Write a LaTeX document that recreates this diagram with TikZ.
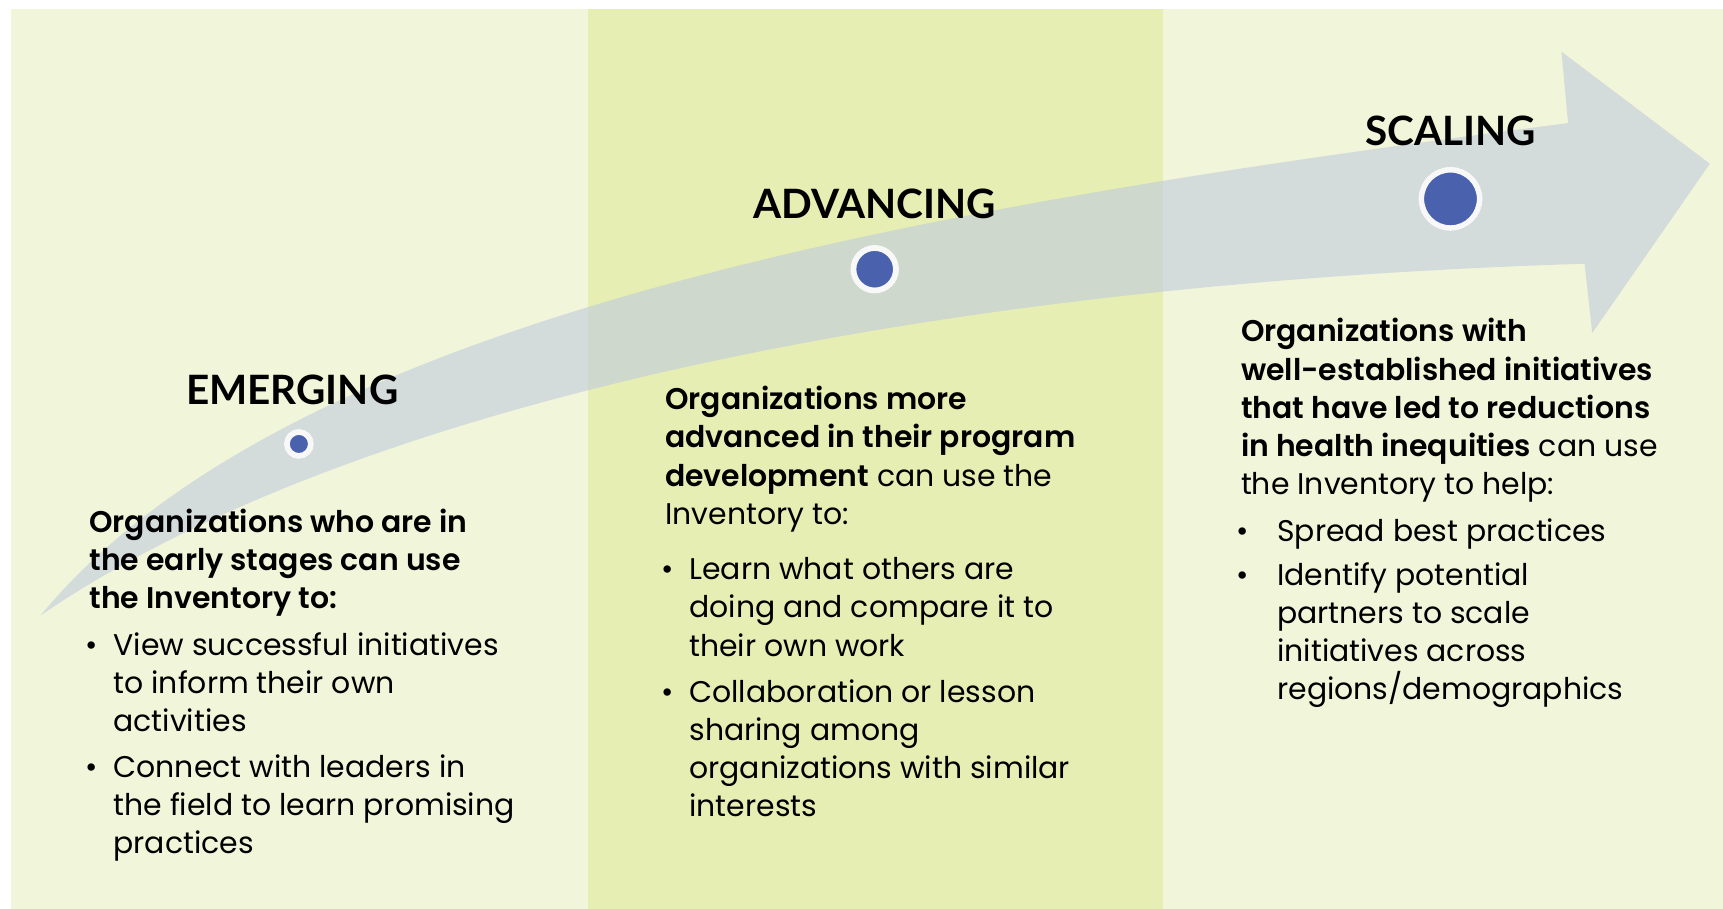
\documentclass[tikz,border=0pt]{standalone}
\usepackage{fontspec}
\setmainfont{Poppins}[BoldFont={Poppins SemiBold}]
\newfontfamily\titlefont{Lato}
\usepackage{tikz}
\usetikzlibrary{shadows}
\usetikzlibrary{positioning}
\definecolor{panelpale}{HTML}{F1F5DA}
\definecolor{panelmid}{HTML}{E6EEB3}
\definecolor{arrowgray}{RGB}{191,202,221}
\definecolor{dotblue}{HTML}{4A62AE}
\definecolor{ringwhite}{HTML}{F8F8F8}
\tikzset{
  stagetitle/.style={font=\titlefont\fontsize{18.4}{22}\selectfont\bfseries, inner sep=0pt, anchor=base},
  stagedot/.style={circle, fill=dotblue, draw=ringwhite, inner sep=0pt,
    drop shadow={shadow xshift=0.6pt, shadow yshift=-1.2pt, opacity=0.25}},
  bodytext/.style={font=\fontsize{13.6}{17.35}\selectfont, align=left, inner sep=0pt, anchor=base west},
}
\newcommand{\bmark}[1]{\leavevmode\llap{\textbullet\hspace{#1}}}

\begin{document}
\begin{tikzpicture}[x=0.5pt,y=-0.5pt]
\useasboundingbox (0,0) rectangle (1568,827);
\fill[panelpale] (10,8) rectangle (1568,827);
\fill[panelmid] (535,8) rectangle (1058,827);
%% curved arrow behind the stages
\fill[arrowgray, opacity=0.6] (37,560) .. controls (260,290) and (820,190) .. (1427,112)
  -- (1421,47) -- (1556,149) -- (1449,303) -- (1442,240)
  .. controls (800,260) and (300,380) .. (37,560) -- cycle;
\node[stagedot, minimum size=10.9pt, line width=2.6pt] (dotE) at (272,404) {};
\node[stagedot, minimum size=19.35pt, line width=2.65pt] (dotA) at (796,245) {};
\node[stagedot, minimum size=26.5pt, line width=2.5pt] (dotS) at (1320,181) {};
\node[stagetitle] (titleE) at (266,368) {EMERGING};
\node[stagetitle] (titleA) at (796,199) {ADVANCING};
\node[stagetitle] (titleS) at (1320,132) {SCALING};
%% emerging (nodes sit on their last baseline)
\node[bodytext] (textE) at (81,554) {\textbf{Organizations who are in}\\\textbf{the early stages can use}\\\textbf{the Inventory to:}};
\node[bodytext] (itemE1) at (103,666) {\bmark{7pt}View successful initiatives\\to inform their own\\activities};
\node[bodytext] (itemE2) at (103,777) {\bmark{7pt}Connect with leaders in\\the field to learn promising\\practices};
%% advancing
\node[bodytext] (textA) at (605,477) {\textbf{Organizations more}\\\textbf{advanced in their program}\\\textbf{development} can use the\\Inventory to:};
\node[bodytext] (itemA1) at (627,597) {\bmark{7pt}Learn what others are\\doing and compare it to\\their own work};
\node[bodytext] (itemA2) at (627,743) {\bmark{7pt}Collaboration or lesson\\sharing among\\organizations with similar\\interests};
%% scaling
\node[bodytext] (textS) at (1129,450) {\textbf{Organizations with}\\\textbf{well-established initiatives}\\\textbf{that have led to reductions}\\\textbf{in health inequities} can use\\the Inventory to help:};
\node[bodytext] (itemS1) at (1162,493) {\bmark{13pt}Spread best practices};
\node[bodytext] (itemS2) at (1162,637) {\bmark{13pt}Identify potential\\partners to scale\\initiatives across\\regions/demographics};
\end{tikzpicture}
\end{document}
